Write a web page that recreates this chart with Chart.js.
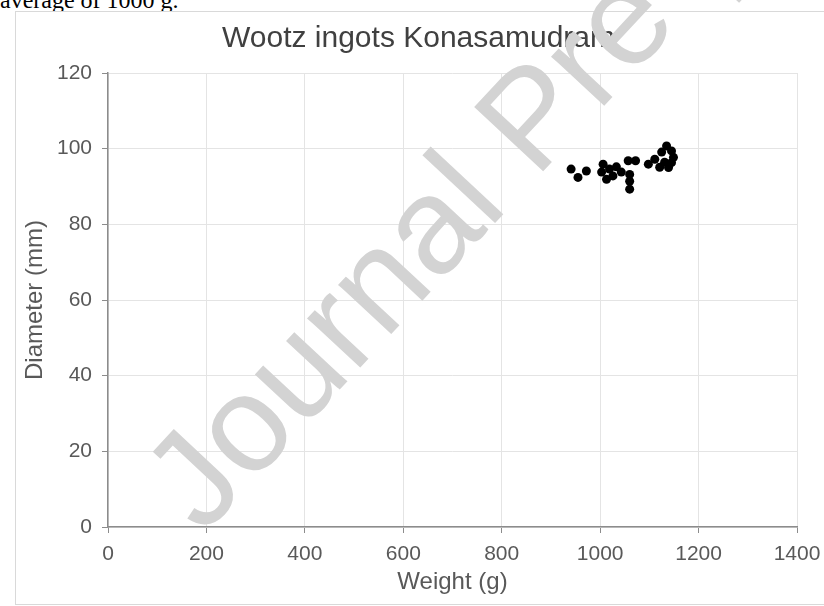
<!DOCTYPE html>
<html>
<head>
<meta charset="utf-8">
<script src="https://cdn.jsdelivr.net/npm/chart.js@4.4.1/dist/chart.umd.min.js"></script>
<style>
  body { margin: 0; background: #fff; width: 824px; height: 606px; overflow: hidden; position: relative; }
  #pagetext { position: absolute; left: 0; top: 0; }
  #frame { position: absolute; left: 15px; top: 11px; width: 820px; height: 592px;
           border: 1px solid #d9d9d9; background: #fff; }
  #mark { position: absolute; left: 0; top: 0; pointer-events: none; }
</style>
</head>
<body>
<svg id="pagetext" width="824" height="20">
  <text x="0" y="7.5" font-family="Liberation Serif" font-size="24" fill="#000">average of 1000 g.</text>
</svg>
<div id="frame"><canvas id="chart" width="808" height="591"></canvas></div>
<svg id="mark" width="824" height="606">
  <text x="203" y="536" transform="rotate(-47 203 536)" font-family="Liberation Sans"
        font-size="137" fill="#d3d3d3">Journal Pre-proof</text>
</svg>
<script>
'use strict';

const axisGrey = "#8c8c8c";
const gridGrey = "#e4e4e4";
const textGrey = "#595959";

// Wootz ingots, Konasamudram
var weights = [941, 955, 972, 1006, 1003, 1019, 1013, 1026, 1033, 1057, 1072, 1043,
               1060, 1060, 1060, 1098, 1111, 1125, 1135, 1145, 1149, 1131, 1121, 1139, 1145];
var diameters = [94.6, 92.4, 94.1, 95.9, 93.8, 94.6, 91.9, 92.8, 95.2, 96.8, 96.8, 93.8,
                 93.2, 91.4, 89.3, 95.9, 97.2, 99.1, 100.7, 99.4, 97.7, 96.4, 95.1, 95.0, 96.3];

var xTicks = [0, 200, 400, 600, 800, 1000, 1200, 1400];
var yTicks = [0, 20, 40, 60, 80, 100, 120];

var points = weights.map((w, i) => ({x: w, y: diameters[i]}));

const ctx = document.getElementById('chart').getContext('2d');
var chart = new Chart(ctx, {
    type: 'scatter',
    data: {
        datasets: [{
            label: 'Ingots',
            data: points,
            pointRadius: 4.5,
            pointHoverRadius: 4.5,
            pointBackgroundColor: "#000",
            pointBorderColor: "#000",
            pointBorderWidth: 0
        }]
    },
    options: {
        responsive: false,
        animation: false,
        layout: { padding: { left: 24, right: 27, top: 0, bottom: 0 } },
        plugins: {
            legend: { display: false },
            tooltip: { enabled: false },
            title: {
                display: true,
                text: 'Wootz ingots Konasamudram',
                color: "#404040",
                font: { family: 'Liberation Sans', size: 30, weight: 'normal' },
                padding: { top: 9, bottom: 16 }
            }
        },
        scales: {
            x: {
                type: 'linear',
                min: xTicks[0],
                max: xTicks[xTicks.length - 1],
                afterBuildTicks: s => { s.ticks = xTicks.map(v => ({value: v})); },
                afterFit: s => { s.height = 76; s.paddingLeft = 0; s.paddingRight = 0; },
                grid: { color: gridGrey, tickColor: axisGrey, tickLength: 6 },
                border: { color: axisGrey, width: 1.5 },
                ticks: { color: textGrey, padding: 9, maxRotation: 0,
                         callback: v => String(v),
                         font: { family: 'Liberation Sans', size: 21 } },
                title: { display: true, text: 'Weight (g)', color: textGrey,
                         padding: { top: 0, bottom: 6 },
                         font: { family: 'Liberation Sans', size: 24 } }
            },
            y: {
                type: 'linear',
                min: yTicks[0],
                max: yTicks[yTicks.length - 1],
                afterBuildTicks: s => { s.ticks = yTicks.map(v => ({value: v})); },
                afterFit: s => { s.width = 68; },
                grid: { color: gridGrey, tickColor: axisGrey, tickLength: 6 },
                border: { color: axisGrey, width: 1.5 },
                ticks: { color: textGrey, padding: 10,
                         callback: v => String(v),
                         font: { family: 'Liberation Sans', size: 21 } },
                title: { display: true, text: 'Diameter (mm)', color: textGrey,
                         padding: { top: -19, bottom: 0 },
                         font: { family: 'Liberation Sans', size: 24 } }
            }
        }
    }
});
</script>
</body>
</html>
